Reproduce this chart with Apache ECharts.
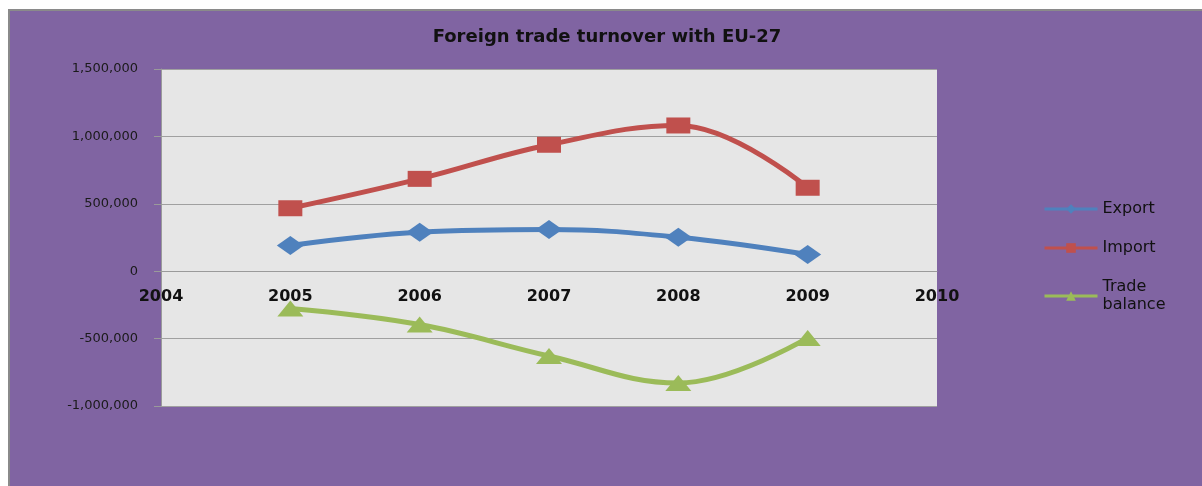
<!DOCTYPE html>
<html>
<head>
<meta charset="utf-8">
<script src="https://cdn.jsdelivr.net/npm/echarts@6/dist/echarts.min.js"></script>
<style>
  html, body { margin: 0; padding: 0; background: #fff; overflow: hidden; }
  #chart {
    position: absolute; left: 8px; top: 9px;
    width: 1194px; height: 477px;
    border-left: 2px solid #8a8a8a; border-top: 2px solid #8a8a8a;
    background: #8064A2;
  }
</style>
</head>
<body>
<div id="chart"></div>
<script>
// years on the x axis
const years = [2005, 2006, 2007, 2008, 2009]
// values
const exportValues = [191000, 289000, 309000, 252000, 124000]
const importValues = [467000, 685000, 938000, 1081000, 619000]
const balanceValues = [-276000, -396000, -629000, -829000, -495000]

const yMin = -1000000
const yMax = 1500000
const plotHeight = 337

const chart = echarts.init(document.getElementById('chart'))

function pairs(values) {
  return years.map((y, i) => [y, values[i]])
}

function lineSeries(name, values, color, symbol, size) {
  return {
    name: name,
    type: 'line',
    data: pairs(values),
    smooth: 0.4,
    symbol: symbol,
    symbolSize: size,
    lineStyle: { color: color, width: 5 },
    itemStyle: { color: color },
    z: 3
  }
}

chart.setOption({
  animation: false,
  title: {
    text: 'Foreign trade turnover with EU-27',
    left: 'center',
    top: 12,
    padding: [5, 5, 5, 15],
    textStyle: { fontFamily: 'DejaVu Sans', fontWeight: 'bold', fontSize: 18, color: '#111' }
  },
  legend: {
    orient: 'vertical',
    left: 1028,
    top: 184,
    itemWidth: 53,
    itemHeight: 12,
    itemGap: 21,
    lineStyle: { width: 3 },
    textStyle: { fontFamily: 'DejaVu Sans', fontSize: 16, lineHeight: 18, color: '#111' },
    formatter: name => name === 'Trade balance' ? 'Trade\nbalance' : name,
    data: ['Export', 'Import', 'Trade balance']
  },
  grid: {
    left: 151, top: 58, width: 776, height: plotHeight,
    show: true, backgroundColor: '#E6E6E6', borderWidth: 0
  },
  xAxis: {
    type: 'value',
    min: 2004, max: 2010, interval: 1,
    position: 'bottom',
    // put the axis where y = 0
    offset: -plotHeight * (0 - yMin) / (yMax - yMin),
    axisLine: { onZero: false, lineStyle: { color: '#9a9a9a', width: 1 } },
    axisTick: { show: false },
    splitLine: { show: false },
    axisLabel: {
      showMinLabel: true, showMaxLabel: true,
      margin: 18,
      fontFamily: 'DejaVu Sans', fontWeight: 'bold', fontSize: 16, color: '#111',
      formatter: v => String(v)
    }
  },
  yAxis: {
    type: 'value',
    min: yMin, max: yMax, interval: 500000,
    axisLine: { show: true, onZero: false, lineStyle: { color: '#9a9a9a', width: 1 } },
    axisTick: { show: true, length: 7, lineStyle: { color: '#9a9a9a' } },
    splitLine: { show: true, lineStyle: { color: '#a0a0a0', width: 1 } },
    axisLabel: {
      margin: 23,
      fontFamily: 'DejaVu Sans', fontSize: 13, color: '#1a1a1a',
      formatter: v => v.toLocaleString('en-US')
    }
  },
  series: [
    lineSeries('Export', exportValues, '#4F81BD', 'diamond', [27, 19]),
    lineSeries('Import', importValues, '#C0504D', 'rect', [24, 16]),
    lineSeries('Trade balance', balanceValues, '#9BBB59', 'triangle', [26, 16])
  ]
})
</script>
</body>
</html>
